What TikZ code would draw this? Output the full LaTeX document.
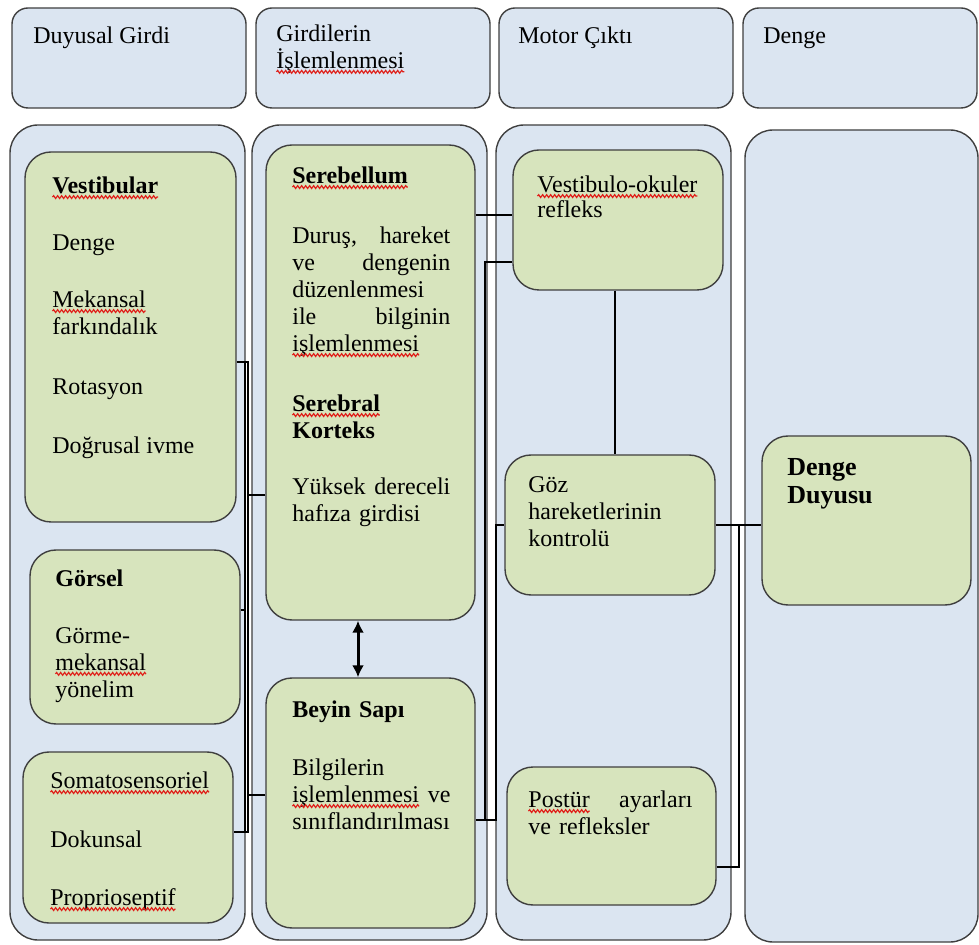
\documentclass[tikz,border=0pt]{standalone}
\usepackage{fontspec}
\setmainfont{Liberation Serif}
\usetikzlibrary{arrows.meta,fit,decorations.pathmorphing}

\definecolor{panelblue}{HTML}{DBE5F1}
\definecolor{boxgreen}{HTML}{D7E4BD}
\definecolor{edgegray}{HTML}{3F3F3F}
\definecolor{wavered}{HTML}{E0201A}

% red wavy underline as in the original
\newcommand\sq[1]{\tikz[baseline=(w.base)]{\node[inner sep=0pt,outer sep=0pt,text width=,anchor=base west] (w) {#1};
  \draw[overlay,wavered,line width=0.6pt,decorate,decoration={snake,amplitude=0.7pt,segment length=2pt}]
  ([yshift=-1.9pt]w.base west) -- ([yshift=-1.9pt]w.base east);}}

\tikzset{
  hdr/.style={draw=edgegray, line width=0.7pt, fill=panelblue, rounded corners=8pt, inner sep=0pt},
  lane/.style={draw=edgegray, line width=0.7pt, fill=panelblue, rounded corners=14pt, inner sep=0pt},
  gbox/.style={draw=edgegray, line width=0.7pt, fill=boxgreen, rounded corners=13pt, inner sep=0pt},
  txt/.style={anchor=north west, inner sep=0pt, align=left, font=\fontsize{12}{13.5}\selectfont, execute at begin node=\strut},
  conn/.style={line width=1.2pt, black},
}

\begin{document}
\begin{tikzpicture}[x=0.5pt, y=-0.5pt]
  \useasboundingbox (0,0) rectangle (979,945);

  % headers
  \node[hdr, fit={(12,8) (246,108)}] (h1) {};
  \node[hdr, fit={(256,8) (490,108)}] (h2) {};
  \node[hdr, fit={(499,8) (733,108)}] (h3) {};
  \node[hdr, fit={(743,8) (977,108)}] (h4) {};
  \node[txt] (h1t) at (33,24) {Duyusal Girdi};
  \node[txt] (h2t) at (276,24) {Girdilerin\\\sq{İşlemlenmesi}};
  \node[txt] (h3t) at (518,24) {Motor Çıktı};
  \node[txt] (h4t) at (763,24) {Denge};

  % lanes
  \node[lane, fit={(10,125) (245,940)}] (l1) {};
  \node[lane, fit={(252,125) (487,940)}] (l2) {};
  \node[lane, fit={(496,125) (731,940)}] (l3) {};
  \node[lane, fit={(745,130) (978,942)}] (l4) {};

  % boxes
  \node[gbox, fit={(25,152) (236,522)}] (vest) {};
  \node[gbox, fit={(30,550) (240,724)}] (gors) {};
  \node[gbox, fit={(23,752) (233,923)}] (soma) {};
  \node[gbox, fit={(266,145) (475,620)}] (sereb) {};
  \node[gbox, fit={(266,678) (475,928)}] (beyin) {};
  \node[gbox, fit={(513,150) (723,290)}] (vor) {};
  \node[gbox, fit={(505,455) (715,595)}] (goz) {};
  \node[gbox, fit={(507,767) (716,905)}] (post) {};
  \node[gbox, fit={(762,436) (971,605)}] (dd) {};

  % sensory bus
  \coordinate (sbusT) at (248,362);
  \coordinate (sbusB) at (248,832);
  \coordinate (gbusT) at (245,362);
  \coordinate (gbusB) at (245,832);
  \draw[conn] (vest.east |- sbusT) -- (sbusT) -- (sbusB) -- (soma.east |- sbusB);
  \draw[conn] (gbusT) -- (gbusB);
  \draw[conn] (gors.east |- 0,610) -- (245,610);
  \draw[conn] (sereb.west |- 0,495) -- (248,495);
  \draw[conn] (beyin.west |- 0,795) -- (248,795);

  % motor side
  \coordinate (mbusA) at (485,820);
  \coordinate (mbusB) at (496,820);
  \draw[conn] (sereb.east |- 0,215) -- (vor.west |- 0,215);
  \draw[conn] (beyin.east |- mbusB) -- (mbusB) -- (mbusB |- goz.west) -- (goz.west);
  \draw[conn] (mbusA) -- (485,262) -- (vor.west |- 0,262);
  \draw[conn] (vor.south -| 615,0) -- (goz.north -| 615,0);
  \draw[conn] (goz.east) -- (dd.west |- goz.east);
  \draw[conn] (post.east |- 0,867) -- (739,867) -- (739,525);
  \draw[conn, line width=1.5pt, {Latex[length=6pt,width=6pt]}-{Latex[length=6pt,width=6pt]}] (sereb.south -| 358,0) -- (beyin.north -| 358,0);

  % texts
  \node[txt] (vestt) at (52,174) {\sq{\textbf{Vestibular}}\\[15pt]
    Denge\\[15pt]
    \sq{Mekansal}\\
    farkındalık\\[16.5pt]
    Rotasyon\\[16pt]
    Doğrusal ivme};
  \node[txt] (gorst) at (55,569) {\textbf{Görsel}\\[15pt]
    Görme-\\
    \sq{mekansal}\\
    yönelim};
  \node[txt] (somat) at (50,769) {\sq{Somatosensoriel}\\[16pt]
    Dokunsal\\[15.5pt]
    \sq{Proprioseptif}};
  \node[txt, text width=79pt] (serebt) at (292,164) {\sq{\textbf{Serebellum}}\\[16.5pt]
    Duruş,\hfill hareket\\
    ve\hfill dengenin\\
    düzenlenmesi\\
    ile\hfill bilginin\\
    \sq{işlemlenmesi}\\[16.5pt]
    \sq{\textbf{Serebral}}\\
    \textbf{Korteks}\\[14.5pt]
    Yüksek\hfill dereceli\\
    hafıza girdisi};
  \node[txt, text width=79pt] (beyint) at (292,698) {\textbf{Beyin Sapı}\\[15.5pt]
    Bilgilerin\\
    \sq{işlemlenmesi}\hfill ve\\
    sınıflandırılması};
  \node[txt] (vort) at (537,173) {\sq{Vestibulo-okuler}\\[-1pt]
    refleks};
  \node[txt] (gozt) at (528,476) {Göz\\
    hareketlerinin\\
    kontrolü};
  \node[txt, text width=82pt] (postt) at (528,788) {\sq{Postür}\hfill ayarları\\
    ve refleksler};
  \node[txt, font=\fontsize{13}{14}\selectfont\bfseries] (ddt) at (787,458) {Denge\\
    Duyusu};
\end{tikzpicture}
\end{document}
